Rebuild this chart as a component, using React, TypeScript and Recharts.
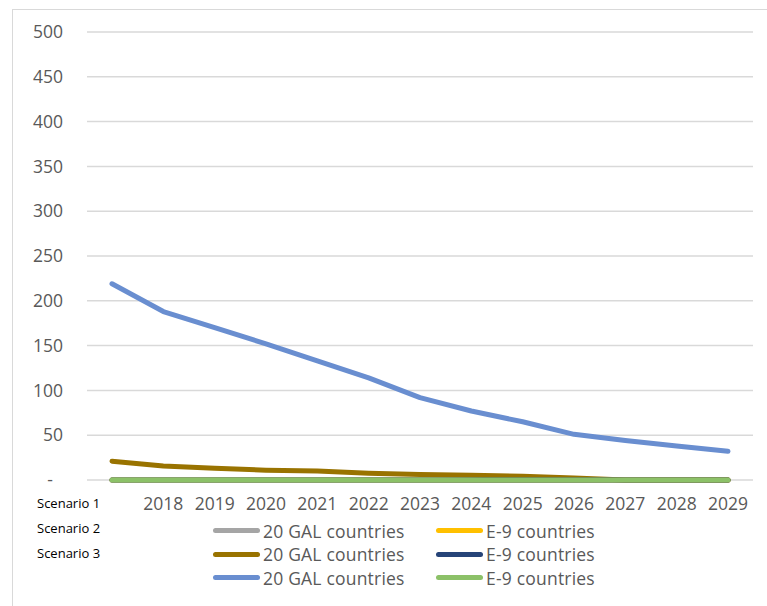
import React from "react";
import { LineChart, Line, XAxis, YAxis, CartesianGrid } from "recharts";

// Category labels (first year is left unlabeled on the axis)
const years = ["", "2018", "2019", "2020", "2021", "2022", "2023", "2024", "2025", "2026", "2027", "2028", "2029"];

// Scenario 1
const gal1 = [0, 0, 0, 0, 0, 0, 0, 0, 0, 0, 0, 0, 0];
const e9s1 = [0, 0, 0, 0, 0, 0, 0, 0, 0, 0, 0, 0, 0];
// Scenario 2
const gal2 = [21, 15.5, 13, 11, 10, 7.6, 6.1, 5.2, 4.2, 2.3, 0, 0, 0];
const e9s2 = [0, 0, 0, 0, 0, 0, 0, 0, 0, 0, 0, 0, 0];
// Scenario 3
const gal3 = [219, 188, 170, 152, 133, 114, 92, 77, 65, 51, 44, 38, 32];
const e9s3 = [0, 0, 0, 0, 0, 0, 0, 0, 0, 0, 0, 0, 0];

const yTicks = [0, 50, 100, 150, 200, 250, 300, 350, 400, 450, 500];
const scenarioLabels = ["Scenario 1", "Scenario 2", "Scenario 3"];

const series = [
  { key: "gal1", name: "20 GAL countries", color: "#a5a5a5", values: gal1 },
  { key: "e9s1", name: "E-9 countries", color: "#ffc000", values: e9s1 },
  { key: "gal2", name: "20 GAL countries", color: "#997300", values: gal2 },
  { key: "e9s2", name: "E-9 countries", color: "#264478", values: e9s2 },
  { key: "gal3", name: "20 GAL countries", color: "#698ed0", values: gal3 },
  { key: "e9s3", name: "E-9 countries", color: "#8cc168", values: e9s3 },
];

const data = years.map((year, i) => {
  const row: Record<string, string | number> = { year };
  series.forEach((s) => {
    row[s.key] = s.values[i];
  });
  return row;
});

const FONT = "'Open Sans', sans-serif";
const GREY_TEXT = "#595959";

// y-axis tick: zero is shown as a dash, offset like accounting format
const YTick = (props: any) => {
  const { x, y, payload } = props;
  const isZero = payload.value === 0;
  return (
    <text
      x={isZero ? x - 10 : x}
      y={y}
      dy="0.355em"
      textAnchor="end"
      fill={GREY_TEXT}
      fontSize={17.5}
      fontFamily={FONT}
    >
      {isZero ? "-" : payload.value}
    </text>
  );
};

export default function App() {
  return (
    <div
      style={{
        position: "absolute",
        left: 0,
        top: 0,
        width: 767,
        height: 606,
        overflow: "hidden",
        background: "#fff",
      }}
    >
      <div
        style={{
          position: "absolute",
          left: 12,
          top: 9,
          width: 800,
          height: 700,
          border: "1.5px solid #d9d9d9",
          boxSizing: "border-box",
        }}
      />

      <div style={{ position: "absolute", left: 0, top: 0 }}>
        <LineChart
          width={767}
          height={606}
          data={data}
          margin={{ top: 32, right: 14, bottom: 96, left: 17 }}
        >
          <CartesianGrid vertical={false} stroke="#d9d9d9" strokeWidth={1.5} />
          <XAxis
            dataKey="year"
            axisLine={false}
            tickLine={false}
            tickSize={0}
            tickMargin={18}
            height={30}
            interval={0}
            padding={{ left: 25, right: 25 }}
            tick={{ fill: GREY_TEXT, fontSize: 17.5, fontFamily: FONT }}
          />
          <YAxis
            width={70}
            domain={[0, 500]}
            ticks={yTicks}
            axisLine={false}
            tickLine={false}
            tickSize={0}
            tickMargin={24}
            tick={<YTick />}
          />
          {series.map((s) => (
            <Line
              key={s.key}
              dataKey={s.key}
              name={s.name}
              stroke={s.color}
              strokeWidth={5}
              strokeLinecap="round"
              strokeLinejoin="round"
              dot={false}
              activeDot={false}
              isAnimationActive={false}
            />
          ))}
        </LineChart>
      </div>

      {scenarioLabels.map((label, i) => (
        <div
          key={label}
          style={{
            position: "absolute",
            left: 37,
            top: 494 + i * 25,
            fontFamily: FONT,
            fontSize: 13,
            lineHeight: "18px",
            color: "#000",
          }}
        >
          {label}
        </div>
      ))}

      <div
        style={{
          position: "absolute",
          left: 213,
          top: 519,
          display: "grid",
          gridTemplateColumns: "223px 223px",
          rowGap: 0,
          fontFamily: FONT,
          fontSize: 17.5,
          color: GREY_TEXT,
        }}
      >
        {series.map((s) => (
          <div
            key={s.key}
            style={{ display: "flex", alignItems: "center", height: 23.5 }}
          >
            <span
              style={{
                display: "inline-block",
                width: 47,
                height: 5,
                borderRadius: 3,
                background: s.color,
                marginRight: 3,
              }}
            />
            <span style={{ whiteSpace: "nowrap", letterSpacing: 0.2 }}>{s.name}</span>
          </div>
        ))}
      </div>
    </div>
  );
}
